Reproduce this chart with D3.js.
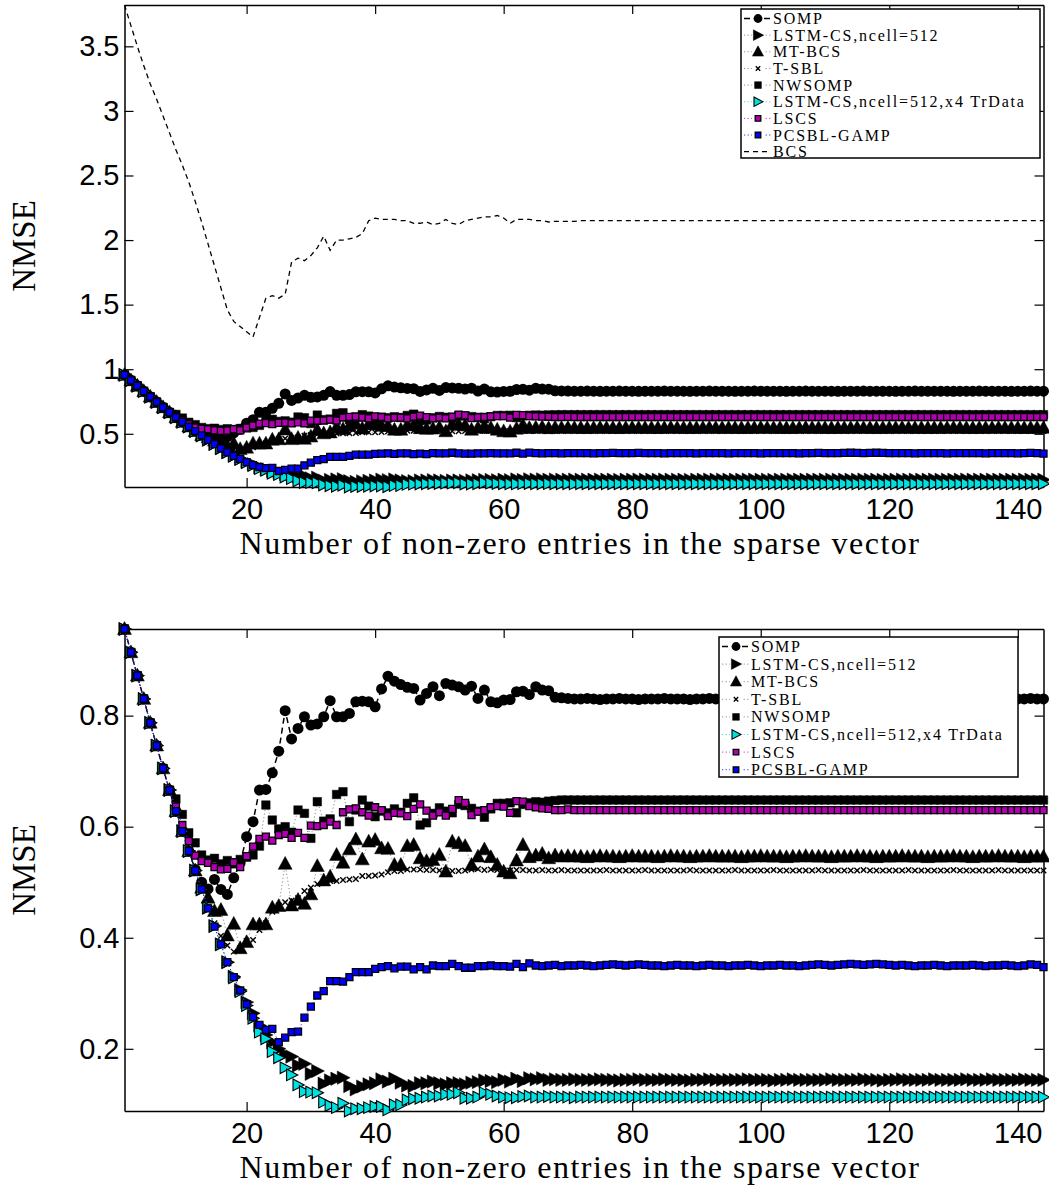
<!DOCTYPE html>
<html>
<head>
<meta charset="utf-8">
<script src="https://cdn.jsdelivr.net/npm/d3@7"></script>
<style>
  html, body { margin: 0; padding: 0; background: #fff; }
  svg { display: block; }
  .serif { font-family: "Liberation Serif", "DejaVu Serif", serif; }
  .sans { font-family: "Liberation Sans", Arial, Helvetica, sans-serif; }
</style>
</head>
<body>
<svg id="chart" width="1049" height="1195"></svg>
<script>
// Number of non-zero entries (x axis), 1..144
const nonZero = d3.range(1, 145);

// NMSE per method
const somp = [
  0.956,0.914,0.872,0.830,0.787,0.746,0.705,0.666,0.628,0.592,0.556,0.523,
  0.500,0.488,0.505,0.487,0.478,0.508,0.535,0.582,0.609,0.666,0.667,0.697,
  0.736,0.809,0.758,0.777,0.798,0.783,0.785,0.798,0.827,0.798,0.798,0.804,
  0.825,0.826,0.825,0.816,0.848,0.871,0.862,0.856,0.851,0.849,0.828,0.840,
  0.852,0.836,0.858,0.855,0.852,0.846,0.853,0.831,0.846,0.825,0.823,0.828,
  0.829,0.843,0.844,0.838,0.852,0.846,0.845,0.833,0.832,0.831,0.830,0.830,
  0.831,0.830,0.829,0.830,0.830,0.831,0.830,0.830,0.829,0.830,0.830,0.830,
  0.831,0.830,0.830,0.830,0.829,0.830,0.830,0.831,0.830,0.830,0.830,0.829,
  0.830,0.830,0.831,0.830,0.830,0.830,0.830,0.829,0.830,0.830,0.831,0.830,
  0.830,0.830,0.830,0.829,0.830,0.830,0.830,0.831,0.830,0.830,0.830,0.830,
  0.829,0.830,0.830,0.831,0.830,0.830,0.830,0.830,0.830,0.829,0.830,0.830,
  0.830,0.831,0.830,0.830,0.830,0.830,0.829,0.830,0.830,0.831,0.830,0.830
];
const lstm512 = [
  0.956,0.914,0.872,0.830,0.787,0.746,0.705,0.666,0.628,0.592,0.556,0.521,
  0.487,0.454,0.421,0.388,0.356,0.330,0.306,0.284,0.264,0.242,0.225,0.212,
  0.200,0.190,0.186,0.170,0.173,0.155,0.160,0.137,0.143,0.146,0.148,0.133,
  0.127,0.132,0.136,0.138,0.145,0.141,0.146,0.139,0.134,0.133,0.138,0.138,
  0.141,0.138,0.136,0.138,0.138,0.136,0.139,0.140,0.143,0.142,0.140,0.144,
  0.141,0.146,0.142,0.147,0.145,0.147,0.144,0.145,0.144,0.144,0.145,0.144,
  0.144,0.144,0.145,0.144,0.144,0.143,0.144,0.144,0.145,0.144,0.144,0.144,
  0.145,0.144,0.144,0.144,0.143,0.144,0.144,0.145,0.144,0.144,0.144,0.144,
  0.144,0.145,0.144,0.144,0.144,0.143,0.144,0.144,0.145,0.144,0.144,0.144,
  0.144,0.144,0.145,0.144,0.144,0.144,0.144,0.145,0.144,0.144,0.143,0.144,
  0.144,0.145,0.144,0.144,0.144,0.144,0.145,0.144,0.144,0.144,0.144,0.145,
  0.144,0.144,0.144,0.145,0.144,0.144,0.144,0.144,0.145,0.144,0.144,0.144
];
const mtbcs = [
  0.956,0.914,0.872,0.830,0.787,0.746,0.705,0.666,0.628,0.592,0.556,0.521,
  0.490,0.472,0.448,0.450,0.404,0.425,0.381,0.392,0.424,0.424,0.424,0.454,
  0.457,0.533,0.458,0.468,0.461,0.478,0.529,0.503,0.510,0.549,0.535,0.559,
  0.577,0.541,0.573,0.576,0.561,0.560,0.531,0.531,0.565,0.567,0.543,0.538,
  0.540,0.549,0.519,0.573,0.570,0.565,0.531,0.546,0.559,0.545,0.531,0.519,
  0.516,0.539,0.567,0.545,0.548,0.551,0.543,0.548,0.546,0.547,0.546,0.546,
  0.545,0.546,0.547,0.546,0.546,0.545,0.546,0.547,0.546,0.546,0.546,0.545,
  0.546,0.547,0.546,0.546,0.545,0.546,0.546,0.547,0.546,0.546,0.546,0.546,
  0.545,0.546,0.546,0.547,0.546,0.546,0.546,0.545,0.546,0.546,0.547,0.546,
  0.546,0.546,0.545,0.546,0.546,0.546,0.547,0.546,0.546,0.545,0.546,0.546,
  0.546,0.547,0.546,0.546,0.546,0.545,0.546,0.546,0.546,0.547,0.546,0.546,
  0.545,0.546,0.546,0.546,0.547,0.546,0.546,0.546,0.545,0.546,0.546,0.546
];
const tsbl = [
  0.956,0.914,0.872,0.830,0.787,0.746,0.705,0.666,0.628,0.592,0.556,0.521,
  0.487,0.455,0.426,0.403,0.386,0.375,0.381,0.394,0.396,0.414,0.426,0.447,
  0.458,0.464,0.467,0.471,0.484,0.490,0.497,0.500,0.502,0.502,0.504,0.505,
  0.506,0.511,0.511,0.512,0.514,0.518,0.520,0.520,0.523,0.523,0.523,0.522,
  0.522,0.521,0.521,0.520,0.520,0.521,0.523,0.524,0.522,0.523,0.522,0.521,
  0.521,0.522,0.522,0.521,0.521,0.522,0.521,0.521,0.522,0.521,0.521,0.521,
  0.521,0.521,0.521,0.522,0.521,0.521,0.521,0.521,0.521,0.522,0.521,0.521,
  0.521,0.521,0.521,0.521,0.522,0.521,0.521,0.521,0.521,0.521,0.521,0.522,
  0.521,0.521,0.521,0.521,0.521,0.522,0.521,0.521,0.521,0.521,0.521,0.521,
  0.522,0.521,0.521,0.521,0.521,0.521,0.521,0.522,0.521,0.521,0.521,0.521,
  0.521,0.521,0.522,0.521,0.521,0.521,0.521,0.521,0.521,0.522,0.521,0.521,
  0.521,0.521,0.521,0.521,0.522,0.521,0.521,0.521,0.521,0.521,0.521,0.521
];
const nwsomp = [
  0.956,0.914,0.872,0.830,0.787,0.746,0.705,0.666,0.650,0.622,0.589,0.571,
  0.549,0.540,0.543,0.533,0.539,0.533,0.541,0.545,0.549,0.565,0.639,0.612,
  0.596,0.600,0.590,0.630,0.624,0.579,0.645,0.610,0.614,0.658,0.663,0.609,
  0.630,0.648,0.637,0.618,0.628,0.625,0.632,0.626,0.642,0.652,0.603,0.607,
  0.624,0.634,0.628,0.625,0.640,0.638,0.633,0.628,0.617,0.632,0.642,0.642,
  0.643,0.625,0.640,0.643,0.645,0.644,0.646,0.647,0.648,0.648,0.648,0.648,
  0.648,0.648,0.648,0.648,0.648,0.648,0.648,0.648,0.648,0.648,0.648,0.648,
  0.648,0.648,0.648,0.648,0.648,0.648,0.648,0.648,0.648,0.648,0.648,0.648,
  0.648,0.648,0.648,0.648,0.648,0.648,0.648,0.648,0.648,0.648,0.648,0.648,
  0.648,0.648,0.648,0.648,0.648,0.648,0.648,0.648,0.648,0.648,0.648,0.648,
  0.648,0.648,0.648,0.648,0.648,0.648,0.648,0.648,0.648,0.648,0.648,0.648,
  0.648,0.648,0.648,0.648,0.648,0.648,0.648,0.648,0.648,0.648,0.648,0.648
];
const lstm512x4 = [
  0.956,0.914,0.872,0.830,0.787,0.746,0.705,0.666,0.628,0.592,0.556,0.521,
  0.487,0.454,0.421,0.388,0.356,0.328,0.303,0.278,0.255,0.230,0.218,0.195,
  0.184,0.166,0.153,0.135,0.123,0.122,0.121,0.104,0.098,0.094,0.102,0.088,
  0.092,0.092,0.094,0.096,0.096,0.090,0.099,0.099,0.108,0.110,0.111,0.113,
  0.115,0.115,0.118,0.118,0.121,0.111,0.111,0.113,0.121,0.118,0.115,0.113,
  0.112,0.112,0.114,0.115,0.113,0.113,0.114,0.113,0.113,0.113,0.112,0.113,
  0.113,0.113,0.113,0.113,0.113,0.113,0.113,0.113,0.113,0.113,0.113,0.113,
  0.113,0.113,0.113,0.113,0.113,0.113,0.113,0.113,0.113,0.113,0.113,0.113,
  0.113,0.113,0.113,0.113,0.113,0.113,0.113,0.113,0.113,0.113,0.113,0.113,
  0.113,0.113,0.113,0.113,0.113,0.113,0.113,0.113,0.113,0.113,0.113,0.113,
  0.113,0.113,0.113,0.113,0.113,0.113,0.113,0.113,0.113,0.113,0.113,0.113,
  0.113,0.113,0.113,0.113,0.113,0.113,0.113,0.113,0.113,0.113,0.113,0.113
];
const lscs = [
  0.956,0.914,0.872,0.830,0.787,0.746,0.705,0.666,0.636,0.603,0.574,0.548,
  0.538,0.535,0.527,0.523,0.524,0.536,0.527,0.547,0.564,0.578,0.582,0.575,
  0.585,0.587,0.580,0.589,0.580,0.602,0.601,0.603,0.609,0.603,0.626,0.631,
  0.633,0.626,0.620,0.635,0.630,0.619,0.625,0.624,0.619,0.632,0.640,0.629,
  0.620,0.626,0.620,0.632,0.648,0.643,0.621,0.627,0.630,0.635,0.637,0.636,
  0.625,0.646,0.645,0.637,0.635,0.633,0.632,0.630,0.630,0.631,0.630,0.630,
  0.630,0.630,0.630,0.630,0.630,0.630,0.630,0.630,0.630,0.630,0.630,0.630,
  0.630,0.630,0.630,0.630,0.630,0.630,0.630,0.630,0.630,0.630,0.630,0.630,
  0.630,0.630,0.630,0.630,0.630,0.630,0.630,0.630,0.630,0.630,0.630,0.630,
  0.630,0.630,0.630,0.630,0.630,0.630,0.630,0.630,0.630,0.630,0.630,0.630,
  0.630,0.630,0.630,0.630,0.630,0.630,0.630,0.630,0.630,0.630,0.630,0.630,
  0.630,0.630,0.630,0.630,0.630,0.630,0.630,0.630,0.630,0.630,0.630,0.630
];
const pcsblGamp = [
  0.956,0.914,0.872,0.830,0.787,0.746,0.705,0.666,0.628,0.592,0.556,0.521,
  0.487,0.453,0.420,0.388,0.356,0.329,0.305,0.280,0.257,0.243,0.234,0.236,
  0.212,0.220,0.230,0.231,0.256,0.276,0.296,0.304,0.322,0.322,0.321,0.329,
  0.338,0.338,0.338,0.344,0.347,0.349,0.345,0.348,0.348,0.343,0.347,0.343,
  0.350,0.349,0.349,0.353,0.349,0.346,0.346,0.349,0.349,0.350,0.349,0.349,
  0.348,0.353,0.347,0.354,0.350,0.349,0.350,0.351,0.349,0.350,0.350,0.351,
  0.350,0.349,0.350,0.351,0.352,0.351,0.350,0.351,0.352,0.351,0.350,0.350,
  0.349,0.350,0.351,0.350,0.350,0.349,0.350,0.351,0.350,0.350,0.349,0.350,
  0.350,0.351,0.350,0.349,0.350,0.350,0.351,0.350,0.350,0.349,0.350,0.351,
  0.352,0.351,0.350,0.351,0.352,0.353,0.352,0.351,0.352,0.353,0.352,0.351,
  0.350,0.351,0.350,0.349,0.350,0.350,0.351,0.350,0.349,0.350,0.350,0.350,
  0.351,0.350,0.349,0.350,0.350,0.351,0.350,0.349,0.350,0.352,0.351,0.347
];
const bcs = [
  3.82,3.66,3.50,3.35,3.21,3.09,2.96,2.83,2.70,2.58,2.45,2.30,
  2.14,1.97,1.80,1.63,1.46,1.37,1.33,1.29,1.25,1.40,1.55,1.57,
  1.55,1.58,1.83,1.86,1.84,1.88,1.94,2.03,1.92,2.00,2.00,2.01,
  2.02,2.05,2.15,2.17,2.16,2.16,2.16,2.15,2.15,2.13,2.13,2.14,
  2.12,2.13,2.16,2.13,2.12,2.15,2.16,2.17,2.18,2.18,2.19,2.17,
  2.13,2.16,2.16,2.16,2.15,2.15,2.14,2.145,2.145,2.145,2.145,2.15,
  2.15,2.15,2.15,2.15,2.15,2.15,2.15,2.15,2.15,2.15,2.15,2.15,
  2.15,2.15,2.15,2.15,2.15,2.15,2.15,2.15,2.15,2.15,2.15,2.15,
  2.15,2.15,2.15,2.15,2.15,2.15,2.15,2.15,2.15,2.15,2.15,2.15,
  2.15,2.15,2.15,2.15,2.15,2.15,2.15,2.15,2.15,2.15,2.15,2.15,
  2.15,2.15,2.15,2.15,2.15,2.15,2.15,2.15,2.15,2.15,2.15,2.15,
  2.15,2.15,2.15,2.15,2.15,2.15,2.15,2.15,2.15,2.15,2.15,2.15
];

const xTicks = [20, 40, 60, 80, 100, 120, 140];
const yTicksTop = [0.5, 1, 1.5, 2, 2.5, 3, 3.5];
const yTicksBottom = [0.2, 0.4, 0.6, 0.8];
const xLabel = "Number of non-zero entries in the sparse vector";
const yLabel = "NMSE";

// Marker shapes
const rightTri = s => `M${-s*0.5},${-s*0.58}L${s*0.62},0L${-s*0.5},${s*0.58}Z`;
const upTri = s => `M0,${-s*0.62}L${s*0.58},${s*0.45}L${-s*0.58},${s*0.45}Z`;
const square = s => `M${-s/2},${-s/2}h${s}v${s}h${-s}Z`;
const circle = s => `M${-s/2},0a${s/2},${s/2} 0 1,0 ${s},0a${s/2},${s/2} 0 1,0 ${-s},0Z`;
const cross = s => `M${-s/2},${-s/2}L${s/2},${s/2}M${-s/2},${s/2}L${s/2},${-s/2}`;

const methods = [
  { name: "SOMP", values: somp, line: "#000", dash: "6,4", lw: 1.5, lineOpacity: 1,
    shape: circle, size: 11, fill: "#000", stroke: "none" },
  { name: "LSTM-CS,ncell=512", values: lstm512, line: "#000", dash: "1.2,2.4", lw: 1, lineOpacity: 0.45,
    shape: rightTri, size: 11.5, fill: "#000", stroke: "#000", sw: 0.5 },
  { name: "MT-BCS", values: mtbcs, line: "#000", dash: "1.2,2.4", lw: 1, lineOpacity: 0.45,
    shape: upTri, size: 12, fill: "#000", stroke: "#000", sw: 0.5 },
  { name: "T-SBL", values: tsbl, line: "#000", dash: "1.2,2.4", lw: 1, lineOpacity: 0.45,
    shape: cross, size: 5.5, fill: "none", stroke: "#000", sw: 1.4 },
  { name: "NWSOMP", values: nwsomp, line: "#000", dash: "1.2,2.4", lw: 1, lineOpacity: 0.45,
    shape: square, size: 8.5, fill: "#000", stroke: "#000", sw: 0.5 },
  { name: "LSTM-CS,ncell=512,x4 TrData", values: lstm512x4, line: "#00d8d8", dash: "1.2,2.4", lw: 1, lineOpacity: 0.8,
    shape: rightTri, size: 10, fill: "#00e0e0", stroke: "#000", sw: 1.1 },
  { name: "LSCS", values: lscs, line: "#c000c0", dash: "1.2,2.4", lw: 1, lineOpacity: 0.8,
    shape: square, size: 7, fill: "#b000b0", stroke: "#000", sw: 1.3 },
  { name: "PCSBL-GAMP", values: pcsblGamp, line: "#0000ff", dash: "1.2,2.4", lw: 1, lineOpacity: 0.8,
    shape: square, size: 7, fill: "#0000ff", stroke: "#000", sw: 1.3 }
];
const bcsMethod = { name: "BCS", values: bcs, line: "#000", dash: "5,4", lw: 1.3, lineOpacity: 1, shape: null };

const svg = d3.select("#chart");
const left = 124.5, right = 1043.5;
const x = d3.scaleLinear().domain([1, 144]).range([left, right]);

function drawPanel(cfg) {
  const { top, bottom, series, yTicks, legend } = cfg;
  const allValues = series.flatMap(s => s.values);
  const y = d3.scaleLinear().domain([d3.min(allValues), d3.max(allValues)]).range([bottom, top]);
  const g = svg.append("g");

  // Axes box with inward ticks on all four sides
  const tickLen = 9;
  const fmt = d => String(d);
  const axB = g.append("g").attr("transform", `translate(0,${bottom})`)
    .call(d3.axisBottom(x).tickValues(xTicks).tickSizeInner(-tickLen).tickSizeOuter(0).tickPadding(11).tickFormat(fmt));
  const axT = g.append("g").attr("transform", `translate(0,${top})`)
    .call(d3.axisTop(x).tickValues(xTicks).tickSizeInner(-tickLen).tickSizeOuter(0).tickFormat(""));
  const axL = g.append("g").attr("transform", `translate(${left},0)`)
    .call(d3.axisLeft(y).tickValues(yTicks).tickSizeInner(-tickLen).tickSizeOuter(0).tickPadding(5).tickFormat(fmt));
  const axR = g.append("g").attr("transform", `translate(${right},0)`)
    .call(d3.axisRight(y).tickValues(yTicks).tickSizeInner(-tickLen).tickSizeOuter(0).tickFormat(""));
  [axB, axT, axL, axR].forEach(a => {
    a.attr("font-family", null).attr("font-size", null);
    a.select(".domain").attr("stroke", "#000").attr("stroke-width", 1.5);
    a.selectAll(".tick line").attr("stroke", "#000").attr("stroke-width", 1.2);
    a.selectAll("text").attr("class", "sans").attr("font-size", 29).attr("fill", "#000");
  });

  // Curves, then markers
  series.forEach(s => {
    const line = d3.line().x((d, i) => x(nonZero[i])).y(d => y(d));
    g.append("path").datum(s.values)
      .attr("d", line).attr("fill", "none")
      .attr("stroke", s.line).attr("stroke-width", s.lw)
      .attr("stroke-dasharray", s.dash).attr("stroke-opacity", s.lineOpacity);
    if (s.shape) {
      g.append("g").selectAll("path").data(s.values).join("path")
        .attr("transform", (d, i) => `translate(${x(nonZero[i])},${y(d)})`)
        .attr("d", s.shape(s.size))
        .attr("fill", s.fill).attr("stroke", s.stroke).attr("stroke-width", s.sw || 0);
    }
  });

  // Axis titles
  g.append("text").attr("class", "serif")
    .attr("x", 580).attr("y", bottom + 67)
    .attr("text-anchor", "middle")
    .attr("font-size", 32).attr("letter-spacing", 1.5)
    .text(xLabel);
  g.append("text").attr("class", "serif")
    .attr("transform", `translate(35,${(top + bottom) / 2}) rotate(-90)`)
    .attr("text-anchor", "middle")
    .attr("font-size", 33)
    .text(yLabel);

  // Legend
  const lg = g.append("g");
  lg.append("rect").attr("x", legend.x).attr("y", legend.y)
    .attr("width", legend.w).attr("height", legend.h)
    .attr("fill", "#fff").attr("stroke", "#000").attr("stroke-width", 1.5);
  series.forEach((s, i) => {
    const cy = legend.y + legend.first + i * legend.step;
    lg.append("line").attr("x1", legend.x + 3).attr("x2", legend.x + 30)
      .attr("y1", cy).attr("y2", cy)
      .attr("stroke", s.line).attr("stroke-width", s.lw)
      .attr("stroke-dasharray", s.dash).attr("stroke-opacity", s.lineOpacity);
    if (s.shape) {
      lg.append("rect").attr("x", legend.x + 11).attr("y", cy - 5).attr("width", 12).attr("height", 10)
        .attr("fill", "#fff");
      lg.append("path").attr("transform", `translate(${legend.x + 17},${cy})`)
        .attr("d", s.shape(s.size * 0.8))
        .attr("fill", s.fill).attr("stroke", s.stroke).attr("stroke-width", s.sw || 0);
    }
    lg.append("text").attr("class", "serif")
      .attr("x", legend.x + 32).attr("y", cy + 5.5)
      .attr("font-size", 16).attr("letter-spacing", 1.8)
      .text(s.name);
  });
}

drawPanel({
  top: 5, bottom: 487,
  series: methods.concat([bcsMethod]),
  yTicks: yTicksTop,
  legend: { x: 741, y: 9, w: 299, h: 149, first: 9.5, step: 16.65 }
});
drawPanel({
  top: 629, bottom: 1111,
  series: methods,
  yTicks: yTicksBottom,
  legend: { x: 719, y: 637, w: 299, h: 140, first: 9.5, step: 17.6 }
});
</script>
</body>
</html>
